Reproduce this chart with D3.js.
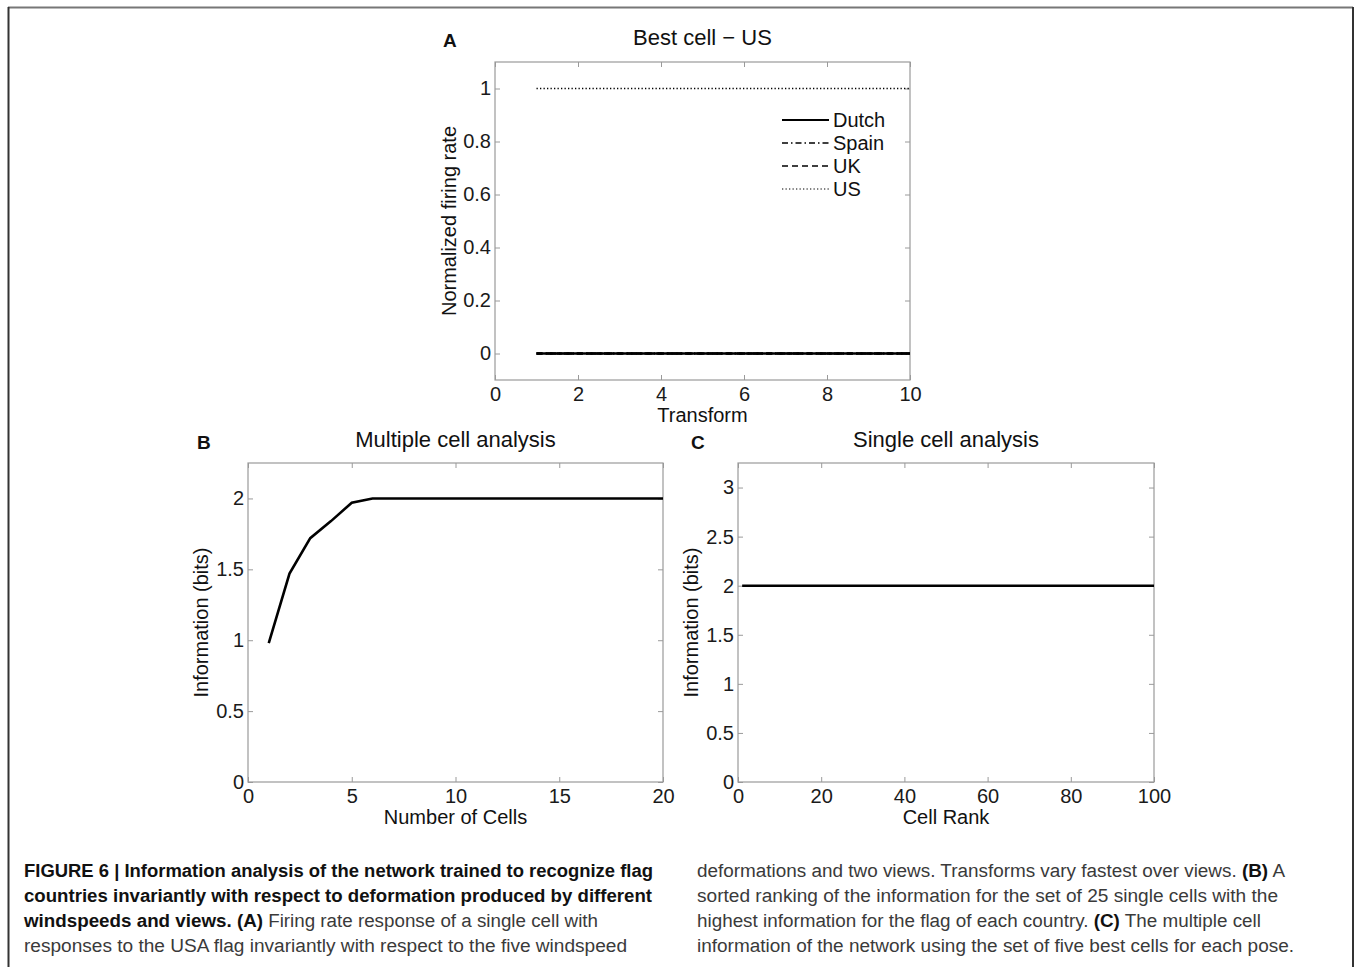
<!DOCTYPE html>
<html lang="en">
<head>
<meta charset="utf-8">
<title>Figure 6</title>
<script src="https://d3js.org/d3.v7.min.js"></script>
<style>
  body { margin: 0; background: #fff; }
  svg text { font-family: "Liberation Sans", Arial, sans-serif; }
  .axis path, .axis line { stroke: #9a9a9a; }
  .axis text { fill: #1a1a1a; font-size: 20px; font-family: "Liberation Sans", Arial, sans-serif; }
  .caption text { font-family: "Liberation Sans", Arial, sans-serif; font-size: 18px; }
</style>
</head>
<body>
<svg id="fig" width="1355" height="967"></svg>
<script>
// panel A: best cell - US
var transforms = [1, 2, 3, 4, 5, 6, 7, 8, 9, 10];
var rateDutch = [0, 0, 0, 0, 0, 0, 0, 0, 0, 0];
var rateSpain = [0, 0, 0, 0, 0, 0, 0, 0, 0, 0];
var rateUK    = [0, 0, 0, 0, 0, 0, 0, 0, 0, 0];
var rateUS    = [1, 1, 1, 1, 1, 1, 1, 1, 1, 1];
var countries = ["Dutch", "Spain", "UK", "US"];

// panel B: multiple cell analysis
var numCells = [1, 2, 3, 4, 5, 6, 7, 8, 9, 10, 11, 12, 13, 14, 15, 16, 17, 18, 19, 20];
var multiInfo = [0.98, 1.47, 1.72, 1.84, 1.97, 2, 2, 2, 2, 2, 2, 2, 2, 2, 2, 2, 2, 2, 2, 2];

// panel C: single cell analysis (ranks 1..100)
var cellRank = d3.range(1, 101);
var singleInfo = [
  2, 2, 2, 2, 2, 2, 2, 2, 2, 2, 2, 2, 2, 2, 2, 2, 2, 2, 2, 2,
  2, 2, 2, 2, 2, 2, 2, 2, 2, 2, 2, 2, 2, 2, 2, 2, 2, 2, 2, 2,
  2, 2, 2, 2, 2, 2, 2, 2, 2, 2, 2, 2, 2, 2, 2, 2, 2, 2, 2, 2,
  2, 2, 2, 2, 2, 2, 2, 2, 2, 2, 2, 2, 2, 2, 2, 2, 2, 2, 2, 2,
  2, 2, 2, 2, 2, 2, 2, 2, 2, 2, 2, 2, 2, 2, 2, 2, 2, 2, 2, 2
];

var captionLeft = [
  [["FIGURE 6 | Information analysis of the network trained to recognize flag", true]],
  [["countries invariantly with respect to deformation produced by different", true]],
  [["windspeeds and views. (A)", true], [" Firing rate response of a single cell with", false]],
  [["responses to the USA flag invariantly with respect to the five windspeed", false]]
];
var captionRight = [
  [["deformations and two views. Transforms vary fastest over views. ", false], ["(B)", true], [" A", false]],
  [["sorted ranking of the information for the set of 25 single cells with the", false]],
  [["highest information for the flag of each country. ", false], ["(C)", true], [" The multiple cell", false]],
  [["information of the network using the set of five best cells for each pose.", false]]
];

var svg = d3.select("#fig");

// outer frame
svg.append("line").attr("x1", 8).attr("x2", 1353).attr("y1", 7.5).attr("y2", 7.5)
   .attr("stroke", "#777").attr("stroke-width", 2);
svg.append("line").attr("x1", 8.5).attr("x2", 8.5).attr("y1", 7).attr("y2", 967)
   .attr("stroke", "#333").attr("stroke-width", 2);
svg.append("line").attr("x1", 1353).attr("x2", 1353).attr("y1", 7).attr("y2", 967)
   .attr("stroke", "#333").attr("stroke-width", 2);

function panel(cfg) {
  var g = svg.append("g");
  var x = d3.scaleLinear().domain(cfg.xDomain).range([cfg.left, cfg.right]);
  var y = d3.scaleLinear().domain(cfg.yDomain).range([cfg.bottom, cfg.top]);
  var fmt = function (d) { return String(d); };

  g.append("g").attr("class", "axis xb")
    .attr("transform", "translate(0," + cfg.bottom + ")")
    .call(d3.axisBottom(x).tickValues(cfg.xTicks).tickSize(-5).tickSizeOuter(0).tickFormat(fmt));
  g.append("g").attr("class", "axis")
    .attr("transform", "translate(0," + cfg.top + ")")
    .call(d3.axisTop(x).tickValues(cfg.xTicks).tickSize(-5).tickSizeOuter(0).tickFormat(""));
  g.append("g").attr("class", "axis yl")
    .attr("transform", "translate(" + cfg.left + ",0)")
    .call(d3.axisLeft(y).tickValues(cfg.yTicks).tickSize(-5).tickPadding(4).tickSizeOuter(0).tickFormat(fmt));
  g.append("g").attr("class", "axis")
    .attr("transform", "translate(" + cfg.right + ",0)")
    .call(d3.axisRight(y).tickValues(cfg.yTicks).tickSize(-5).tickSizeOuter(0).tickFormat(""));
  g.selectAll(".axis .domain").remove();
  g.selectAll(".xb text").attr("dy", null).attr("y", 21);
  g.append("rect").attr("x", cfg.left).attr("y", cfg.top)
    .attr("width", cfg.right - cfg.left).attr("height", cfg.bottom - cfg.top)
    .attr("fill", "none").attr("stroke", "#9a9a9a").attr("stroke-width", 1.2);

  g.append("text").attr("x", (cfg.left + cfg.right) / 2).attr("y", cfg.titleY)
    .attr("text-anchor", "middle").attr("font-size", 22).attr("fill", "#111").text(cfg.title);
  g.append("text").attr("x", cfg.letterX).attr("y", cfg.titleY + 2)
    .attr("font-size", 19).attr("font-weight", "bold").attr("fill", "#111").text(cfg.letter);
  g.append("text").attr("x", (cfg.left + cfg.right) / 2).attr("y", cfg.bottom + 42)
    .attr("text-anchor", "middle").attr("font-size", 20).attr("fill", "#111").text(cfg.xLabel);
  g.append("text")
    .attr("transform", "translate(" + cfg.yLabelX + "," + ((cfg.top + cfg.bottom) / 2) + ") rotate(-90)")
    .attr("text-anchor", "middle").attr("font-size", 20).attr("fill", "#111").text(cfg.yLabel);

  cfg.series.forEach(function (s) {
    var line = d3.line().x(function (d, i) { return x(cfg.xs[i]); }).y(function (d) { return y(d); });
    g.append("path").datum(s.values).attr("d", line)
      .attr("fill", "none").attr("stroke", "#000").attr("stroke-width", s.width)
      .attr("stroke-dasharray", s.dash || null);
  });
  return { g: g, x: x, y: y };
}

var dashes = { Dutch: null, Spain: "6,3,1.5,3", UK: "6,4", US: "1.3,2.2" };

var pA = panel({
  left: 495, right: 910, top: 62, bottom: 380,
  xDomain: [0, 10], yDomain: [-0.1, 1.1],
  xTicks: [0, 2, 4, 6, 8, 10], yTicks: [0, 0.2, 0.4, 0.6, 0.8, 1],
  title: "Best cell \u2212 US", titleY: 45, letter: "A", letterX: 443,
  xLabel: "Transform", yLabel: "Normalized firing rate", yLabelX: 456,
  xs: transforms,
  series: [
    { values: rateUS, width: 1.3, dash: dashes.US },
    { values: rateUK, width: 2.5, dash: dashes.UK },
    { values: rateSpain, width: 2.5, dash: dashes.Spain },
    { values: rateDutch, width: 2.5, dash: dashes.Dutch }
  ]
});

// legend
var leg = pA.g.append("g");
countries.forEach(function (c, i) {
  var yy = 120 + i * 23;
  leg.append("line").attr("x1", 782).attr("x2", 829).attr("y1", yy).attr("y2", yy)
    .attr("stroke", "#000").attr("stroke-width", c === "Dutch" ? 2 : (c === "US" ? 1.1 : 1.6))
    .attr("stroke-dasharray", dashes[c]);
  leg.append("text").attr("x", 833).attr("y", yy + 7).attr("font-size", 20).attr("fill", "#111").text(c);
});

panel({
  left: 248, right: 663, top: 463, bottom: 782,
  xDomain: [0, 20], yDomain: [0, 2.25],
  xTicks: [0, 5, 10, 15, 20], yTicks: [0, 0.5, 1, 1.5, 2],
  title: "Multiple cell analysis", titleY: 447, letter: "B", letterX: 197,
  xLabel: "Number of Cells", yLabel: "Information (bits)", yLabelX: 208,
  xs: numCells,
  series: [{ values: multiInfo, width: 2.6 }]
});

panel({
  left: 738, right: 1154, top: 463, bottom: 782,
  xDomain: [0, 100], yDomain: [0, 3.25],
  xTicks: [0, 20, 40, 60, 80, 100], yTicks: [0, 0.5, 1, 1.5, 2, 2.5, 3],
  title: "Single cell analysis", titleY: 447, letter: "C", letterX: 691,
  xLabel: "Cell Rank", yLabel: "Information (bits)", yLabelX: 698,
  xs: cellRank,
  series: [{ values: singleInfo, width: 2.6 }]
});

// caption
var cap = svg.append("g").attr("class", "caption");
function captionColumn(lines, x0, widths) {
  lines.forEach(function (parts, i) {
    var t = cap.append("text").attr("x", x0).attr("y", 877 + i * 25)
      .attr("textLength", widths[i] - x0).attr("lengthAdjust", "spacingAndGlyphs");
    parts.forEach(function (p) {
      t.append("tspan").attr("font-weight", p[1] ? "bold" : "normal")
        .attr("fill", p[1] ? "#111" : "#3a3a3a").text(p[0]);
    });
  });
}
captionColumn(captionLeft, 24, [653, 652, 598, 627]);
captionColumn(captionRight, 697, [1285, 1278, 1261, 1294]);
</script>
</body>
</html>
